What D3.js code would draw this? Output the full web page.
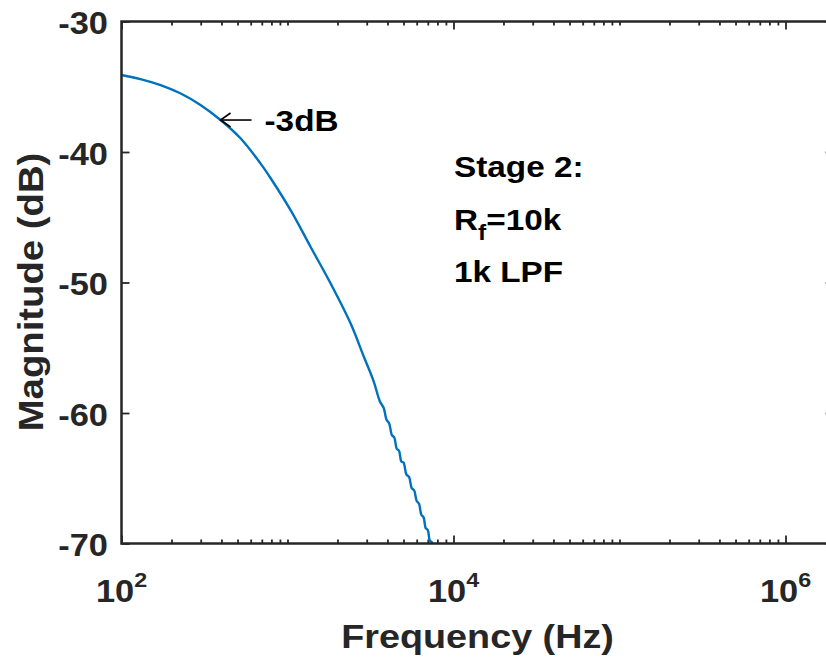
<!DOCTYPE html>
<html>
<head>
<meta charset="utf-8">
<script src="https://cdn.jsdelivr.net/npm/d3@7"></script>
<style>
  body { margin: 0; background: #fff; }
  text { font-family: "Liberation Sans", Arial, Helvetica, sans-serif; font-weight: bold; }
</style>
</head>
<body>
<svg id="chart" width="826" height="662"></svg>
<script>
// Measured magnitude response of the stage-2 low-pass filter
const freqHz = [100, 130, 172, 226, 299, 395, 521, 687, 790, 1042, 1376, 1816, 2397, 2884,
  3300, 3600, 3800, 3950, 4100, 4250, 4400, 4550, 4700, 4850, 5000, 5200, 5400, 5600,
  5800, 6000, 6200, 6400, 6600, 6800, 7000, 7200, 7400, 7600];
const magDb = [-34.10, -34.41, -34.87, -35.50, -36.40, -37.55, -38.95, -40.87, -41.99, -44.44,
  -47.26, -50.06, -53.13, -55.69, -57.55, -59.10, -59.62, -60.52, -60.80, -61.68, -61.88,
  -62.74, -62.90, -63.72, -63.80, -64.70, -64.90, -65.75, -65.94, -66.74, -66.95, -67.80,
  -67.98, -68.82, -68.97, -69.78, -69.90, -70.70];

// Axis settings
const yTicks = [-30, -40, -50, -60, -70];
const xMajorExp = [2, 4, 6];
const xMinHz = 1e2, xMaxHz = 1.95e6;
const yMin = -70, yMax = -30;

// -3 dB marker and notes
const cutoffHz = 395, cutoffDb = -37.55;
const cutoffLabel = "-3dB";
const noteLines = ["Stage 2:", "R|f|=10k", "1k LPF"];

const ink = "#262626";
const sx = 1.11; // horizontal glyph stretch

const svg = d3.select("#chart");

const left = 121.5, decadePx = 166;
const x = d3.scaleLog()
  .domain([xMinHz, xMaxHz])
  .range([left, left + decadePx * Math.log10(xMaxHz / xMinHz)]);
const y = d3.scaleLinear().domain([yMin, yMax]).range([543.5, 21.5]);

const [x0, x1] = x.range();
const [y0, y1] = y.range();

// Tick positions
const majorHz = xMajorExp.map(e => Math.pow(10, e));
const minorHz = [];
for (let e = 2; e <= 6; e++) {
  for (let k = 1; k <= 9; k++) {
    const v = k * Math.pow(10, e);
    if (v <= xMaxHz && !majorHz.includes(v)) minorHz.push(v);
  }
}

function styleAxis(g, w) {
  g.select(".domain").remove();
  g.selectAll(".tick line").attr("stroke", ink).attr("stroke-width", w);
  g.selectAll(".tick text").remove();
}

// bottom (ticks inward)
svg.append("g").attr("transform", `translate(0,${y0})`)
  .call(d3.axisTop(x).tickValues(minorHz).tickSize(4).tickFormat(""))
  .call(g => styleAxis(g, 1.8));
svg.append("g").attr("transform", `translate(0,${y0})`)
  .call(d3.axisTop(x).tickValues(majorHz).tickSize(8).tickFormat(""))
  .call(g => styleAxis(g, 1.8));
// top
svg.append("g").attr("transform", `translate(0,${y1})`)
  .call(d3.axisBottom(x).tickValues(minorHz).tickSize(4).tickFormat(""))
  .call(g => styleAxis(g, 1.8));
svg.append("g").attr("transform", `translate(0,${y1})`)
  .call(d3.axisBottom(x).tickValues(majorHz).tickSize(8).tickFormat(""))
  .call(g => styleAxis(g, 1.8));
// left / right
svg.append("g").attr("transform", `translate(${x0},0)`)
  .call(d3.axisRight(y).tickValues(yTicks).tickSize(8).tickFormat(""))
  .call(g => styleAxis(g, 1.8));
svg.append("g").attr("transform", `translate(${x1},0)`)
  .call(d3.axisLeft(y).tickValues(yTicks).tickSize(8).tickFormat(""))
  .call(g => styleAxis(g, 1.8));

// Clip for the trace
svg.append("defs").append("clipPath").attr("id", "plotArea")
  .append("rect").attr("x", x0).attr("y", y1).attr("width", x1 - x0).attr("height", y0 - y1);

const pts = freqHz.map((f, i) => ({ f, db: magDb[i] }));
const line = d3.line().x(d => x(d.f)).y(d => y(d.db)).curve(d3.curveCatmullRom.alpha(0.5));
svg.append("path")
  .attr("clip-path", "url(#plotArea)")
  .attr("d", line(pts))
  .attr("fill", "none")
  .attr("stroke", "#0072BD")
  .attr("stroke-width", 2.4)
  .attr("stroke-linejoin", "round");

// Frame
svg.append("rect")
  .attr("x", x0).attr("y", y1).attr("width", x1 - x0).attr("height", y0 - y1)
  .attr("fill", "none").attr("stroke", ink).attr("stroke-width", 2.5);

// Text helper with horizontal stretch
function label(px, py, size, anchor, rot) {
  const t = rot ? `translate(${px},${py}) rotate(${rot}) scale(${sx},1)`
                : `translate(${px},${py}) scale(${sx},1)`;
  return svg.append("text")
    .attr("transform", t)
    .attr("font-size", size)
    .attr("text-anchor", anchor)
    .attr("fill", ink);
}

// Y tick labels
yTicks.forEach(v => {
  label(108, y(v) + 12.5, 31, "end").text(v);
});

// X tick labels: 10^n
xMajorExp.forEach(e => {
  const t = label(x(Math.pow(10, e)), 602, 31, "middle");
  t.append("tspan").text("10");
  t.append("tspan").attr("font-size", 21).attr("dy", -15).text(e);
});

// Axis titles
label((x0 + x1) / 2, 648, 34, "middle").text("Frequency (Hz)");
label(43, 292, 34.5, "middle", -90).text("Magnitude (dB)");

// -3 dB arrow
const ax = x(cutoffHz), ay = y(cutoffDb);
const arrow = svg.append("g").attr("stroke", "#000").attr("stroke-width", 1.6).attr("fill", "none");
arrow.append("line").attr("x1", ax).attr("y1", ay).attr("x2", ax + 31).attr("y2", ay);
arrow.append("path").attr("d", `M${ax + 10},${ay - 7} L${ax},${ay} L${ax + 10},${ay + 7}`);
label(ax + 44, ay + 10.5, 30, "start").attr("fill", "#000").text(cutoffLabel);

// Notes
noteLines.forEach((s, i) => {
  const t = label(454, 177 + i * 52.5, 30, "start").attr("fill", "#000");
  const parts = s.split("|");
  if (parts.length === 1) {
    t.text(s);
  } else {
    t.append("tspan").text(parts[0]);
    t.append("tspan").attr("font-size", 22).attr("dy", 10).text(parts[1]);
    t.append("tspan").attr("dy", -10).text(parts[2]);
  }
});
</script>
</body>
</html>
